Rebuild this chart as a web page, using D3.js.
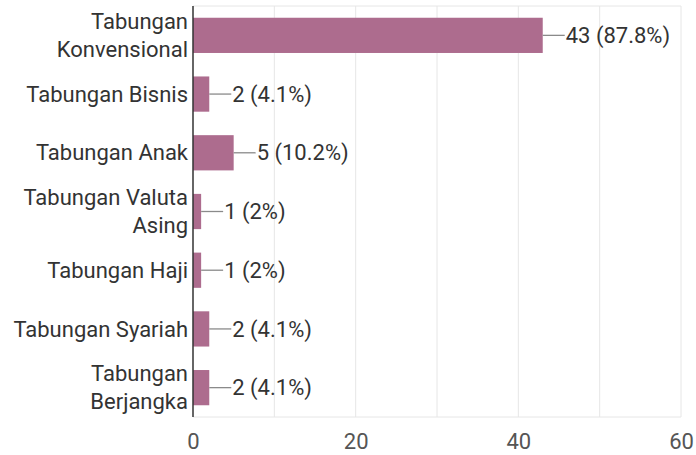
<!DOCTYPE html>
<html lang="id">
<head>
<meta charset="utf-8">
<style>
  body { margin: 0; background: #fff; }
  svg { font-family: Roboto, 'Noto Sans', sans-serif; }
  .grid line { stroke: #e6e6e6; stroke-width: 1; }
  .axis text { fill: #555; }
  .cat { fill: #333; font-size: 22px; }
  .val { fill: #333; font-size: 22px; }
  .leader { stroke: #8a8a8a; stroke-width: 1.3; }
</style>
</head>
<body>
<svg width="696" height="455"></svg>
<script src="https://d3js.org/d3.v7.min.js"></script>
<script>
// data
const categories = ["Tabungan Konvensional", "Tabungan Bisnis", "Tabungan Anak",
  "Tabungan Valuta Asing", "Tabungan Haji", "Tabungan Syariah", "Tabungan Berjangka"]
const counts = [43, 2, 5, 1, 1, 2, 2]
const respondents = 49
const xTicks = [0, 20, 40, 60]
const gridTicks = [10, 20, 30, 40, 50, 60]

const margin = { top: 6, right: 15, bottom: 38, left: 193 }
const width = 696, height = 455

const svg = d3.select("svg")

const x = d3.scaleLinear().domain([0, 60]).range([margin.left, 681])
const y = d3.scaleBand().domain(categories)
  .range([margin.top, height - margin.bottom]).paddingInner(0.4).paddingOuter(0.2)

// grid
const grid = svg.append("g").attr("class", "grid")
grid.selectAll("line.v").data(gridTicks).join("line")
  .attr("class", "v")
  .attr("x1", d => x(d)).attr("x2", d => x(d))
  .attr("y1", margin.top).attr("y2", height - margin.bottom)
grid.append("line")
  .attr("x1", margin.left).attr("x2", x(60))
  .attr("y1", margin.top).attr("y2", margin.top)
grid.append("line")
  .attr("x1", margin.left).attr("x2", x(60))
  .attr("y1", height - margin.bottom).attr("y2", height - margin.bottom)

// bars
const rows = categories.map((c, i) => ({ cat: c, n: counts[i] }))
svg.append("g").selectAll("rect").data(rows).join("rect")
  .attr("x", x(0))
  .attr("y", d => y(d.cat))
  .attr("width", d => x(d.n) - x(0))
  .attr("height", y.bandwidth())
  .attr("fill", "#ad6c8e")

// leader lines + value labels
const fmt = v => {
  const p = Math.round(v / respondents * 1000) / 10
  return v + " (" + (p % 1 === 0 ? p.toFixed(0) : p.toFixed(1)) + "%)"
}
const vals = svg.append("g")
vals.selectAll("line").data(rows).join("line")
  .attr("class", "leader")
  .attr("x1", d => x(d.n)).attr("x2", d => x(d.n) + 22)
  .attr("y1", d => y(d.cat) + y.bandwidth() / 2)
  .attr("y2", d => y(d.cat) + y.bandwidth() / 2)
vals.selectAll("text").data(rows).join("text")
  .attr("class", "val")
  .attr("x", d => x(d.n) + 23)
  .attr("y", d => y(d.cat) + y.bandwidth() / 2)
  .attr("dy", "0.35em")
  .text(d => fmt(d.n))

// category labels, wrapped
const catG = svg.append("g")
categories.forEach(c => {
  const t = catG.append("text").attr("class", "cat")
    .attr("text-anchor", "end").attr("x", margin.left - 5)
  const words = c.split(" ")
  const lines = []
  let cur = []
  words.forEach(w => {
    const test = cur.concat(w).join(" ")
    t.text(test)
    if (cur.length && t.node().getComputedTextLength() > 182) {
      lines.push(cur.join(" ")); cur = [w]
    } else cur.push(w)
  })
  lines.push(cur.join(" "))
  t.text(null)
  const lh = 28
  const cy = y(c) + y.bandwidth() / 2
  lines.forEach((l, i) => {
    t.append("tspan").attr("x", margin.left - 5)
      .attr("y", cy + (i - (lines.length - 1) / 2) * lh)
      .attr("dy", "0.35em").text(l)
  })
})

// axis line
svg.append("line")
  .attr("x1", x(0)).attr("x2", x(0))
  .attr("y1", margin.top).attr("y2", height - margin.bottom)
  .attr("stroke", "#333").attr("stroke-width", 1.5)

// x axis labels
const xAxis = d3.axisBottom(x).tickValues(xTicks).tickSize(0).tickPadding(16)
svg.append("g").attr("class", "axis")
  .attr("transform", "translate(0," + (height - margin.bottom) + ")")
  .call(xAxis)
  .call(g => g.select(".domain").remove())
  .selectAll("text").attr("font-size", 22).attr("font-family", "Roboto, sans-serif")
</script>
</body>
</html>
